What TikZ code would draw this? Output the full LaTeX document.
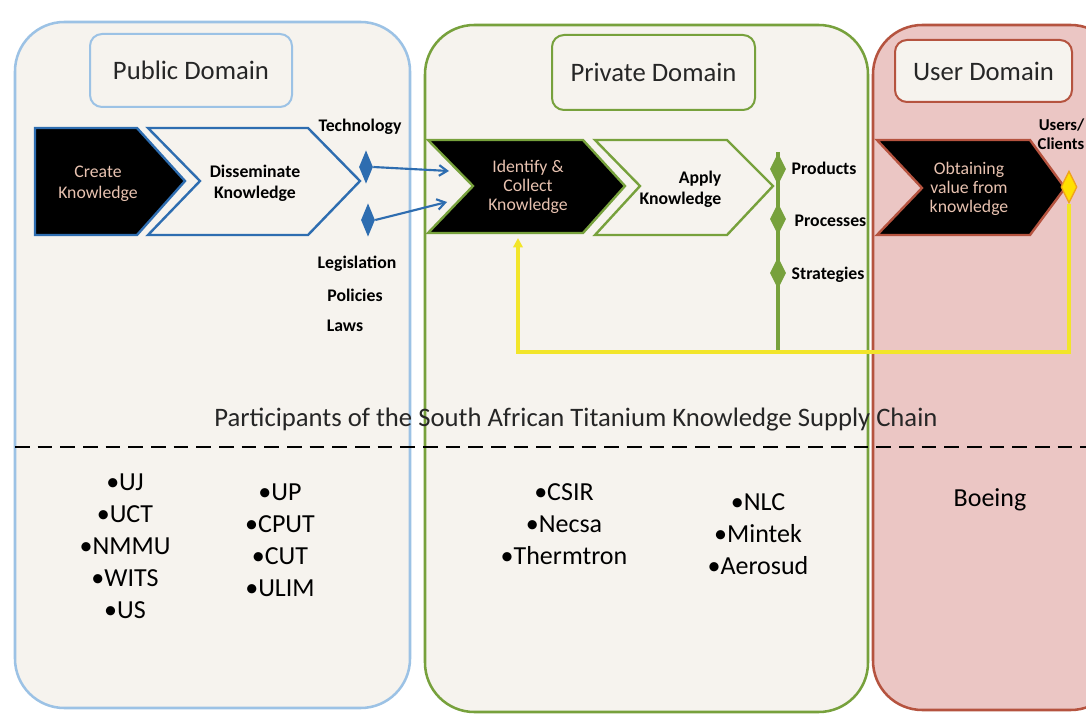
\documentclass[tikz,border=0pt]{standalone}
\usepackage{fontspec}
\setmainfont{Carlito}
\usetikzlibrary{shapes.geometric,arrows.meta}
\definecolor{beige}{HTML}{F6F3EE}
\definecolor{lblue}{HTML}{9CC2E5}
\definecolor{cblue}{HTML}{2E6DB0}
\definecolor{dgreen}{HTML}{77A13C}
\definecolor{pinkf}{HTML}{EBC6C4}
\definecolor{rbrown}{HTML}{B5533F}
\definecolor{peach}{HTML}{E8C2B0}
\definecolor{yline}{HTML}{F2E52A}
\definecolor{yfill}{HTML}{FFE000}
\definecolor{ybord}{HTML}{F0A21C}
\begin{document}
\begin{tikzpicture}[x=0.75pt,y=-0.75pt,
  bigbox/.style={line width=1.9pt,rounded corners=37pt},
  titlebox/.style={line width=1.5pt,rounded corners=9pt,fill=beige},
  titletext/.style={font=\fontsize{20}{22}\selectfont,text=black!85},
  darktext/.style={font=\fontsize{13.3}{14.5}\selectfont,text=peach,align=center},
  boldlbl/.style={font=\bfseries\fontsize{13.3}{15}\selectfont,text=black},
  listtext/.style={font=\fontsize{19.5}{24}\selectfont,align=center,text=black},
  bdia/.style={diamond,fill=cblue,draw=none,inner sep=0pt,minimum width=10.5pt,minimum height=25pt},
  gdia/.style={diamond,fill=dgreen,draw=none,inner sep=0pt,minimum width=12pt,minimum height=24pt},
  ydia/.style={diamond,fill=yfill,draw=ybord,line width=1pt,inner sep=0pt,minimum width=12pt,minimum height=24pt},
  barrow/.style={draw=cblue,line width=1.6pt,-{Straight Barb[length=6pt,width=8pt]}},
  yarrow/.style={draw=yline,line width=2.3pt,-{Triangle[length=7pt,width=7pt]}}
]
\useasboundingbox (0,0) rectangle (1086,717);
\fill[white] (0,0) rectangle (1086,717);
% domain boxes
\draw[bigbox,draw=lblue,fill=beige] (15,22) rectangle (410,708);
\draw[bigbox,draw=dgreen,fill=beige] (425,25) rectangle (868,712);
\draw[bigbox,draw=rbrown,fill=pinkf] (873,25) rectangle (1120,710);
% title boxes
\node[titlebox,draw=lblue,minimum width=151.5pt,minimum height=54.75pt] (pubt) at (191,70.5) {};
\node[titletext] (pubtx) at (pubt) {Public Domain};
\node[titlebox,draw=dgreen,minimum width=152.25pt,minimum height=56.25pt] (prit) at (653.5,72.5) {};
\node[titletext] (pritx) at (prit) {Private Domain};
\node[titlebox,draw=rbrown,minimum width=132.75pt,minimum height=46.5pt] (uset) at (983.5,71) {};
\node[titletext] (usetx) at (uset) {User Domain};
% chevrons
\draw[draw=cblue,line width=1.8pt,fill=black] (35,128) -- (137,128) -- (185,181) -- (137,235) -- (35,235) -- cycle;
\draw[draw=cblue,line width=1.8pt,fill=beige] (148,128) -- (308,128) -- (360,181) -- (308,235) -- (148,235) -- (200,181) -- cycle;
\draw[draw=dgreen,line width=1.8pt,fill=black] (428,140) -- (583,140) -- (625,186) -- (583,233) -- (428,233) -- (473,186) -- cycle;
\draw[draw=dgreen,line width=1.8pt,fill=beige] (595,140) -- (727,140) -- (773,186) -- (727,235) -- (595,235) -- (640,186) -- cycle;
\draw[draw=rbrown,line width=1.8pt,fill=black] (877,140) -- (1030,140) -- (1065,188) -- (1030,235) -- (877,235) -- (922,188) -- cycle;
% chevron texts
\node[darktext,font=\fontsize{13.3}{16}\selectfont] (create) at (98,184) {Create\\Knowledge};
\node[boldlbl,align=center,font=\bfseries\fontsize{13.3}{15.5}\selectfont] (dissem) at (255,183) {Disseminate\\Knowledge};
\node[darktext] (ident) at (528,187) {Identify \&\\Collect\\Knowledge};
\node[boldlbl,align=right,anchor=east,font=\bfseries\fontsize{13.3}{15.5}\selectfont] (apply) at (726,189) {Apply\\Knowledge};
\node[darktext] (obtain) at (969,189) {Obtaining\\value from\\knowledge};
% blue diamonds and labels
\node[bdia] (d1) at (366,167) {};
\node[bdia] (d2) at (368,220) {};
\node[boldlbl] (tech) at (360,127) {Technology};
\node[boldlbl] (legis) at (357,264) {Legislation};
\node[boldlbl] (polic) at (355,295) {Policies};
\node[boldlbl] (laws) at (345,326) {Laws};
\coordinate (t1) at (449,171);
\coordinate (t2) at (447,202);
\draw[barrow] (d1.east) -- (t1);
\draw[barrow] (d2.east) -- (t2);
% green outputs
\coordinate (gtop) at (778,152);
\coordinate (gbot) at (778,352);
\draw[dgreen,line width=2.4pt] (gtop) -- (gbot);
\node[gdia] (g1) at (778,169) {};
\node[gdia] (g2) at (778,219) {};
\node[gdia] (g3) at (778,273) {};
\node[boldlbl,anchor=west] (prod) at (787,168) {Products};
\node[boldlbl,anchor=west] (proc) at (790,221) {Processes};
\node[boldlbl,anchor=west] (strat) at (787,275) {Strategies};
% users
\node[boldlbl,align=right,anchor=east,font=\bfseries\fontsize{12.5}{14.5}\selectfont] (users) at (1089,134) {Users/\\Clients};
\coordinate (yb) at (1069,352);
\coordinate (ya) at (518,352);
\coordinate (yt) at (518,238);
\node[ydia] (yd) at (1069,187) {};
\draw[yarrow] (yd.south) -- (yb) -- (ya) -- (yt);
% participants
\node[font=\fontsize{20}{22}\selectfont,text=black!85] (part) at (576,420) {Participants of the South African Titanium Knowledge Supply Chain};
\coordinate (dl) at (15,447);
\coordinate (dr) at (1086,447);
\draw[black,line width=2.2pt,dash pattern=on 11pt off 6pt] (dl) -- (dr);
% lists
\node[listtext,anchor=north] (l1) at (125,469) {•UJ\\•UCT\\•NMMU\\•WITS\\•US};
\node[listtext,anchor=north] (l2) at (280,479) {•UP\\•CPUT\\•CUT\\•ULIM};
\node[listtext,anchor=north] (l3) at (564,479) {•CSIR\\•Necsa\\•Thermtron};
\node[listtext,anchor=north] (l4) at (758,489) {•NLC\\•Mintek\\•Aerosud};
\node[listtext] (boeing) at (990,500) {Boeing};
\end{tikzpicture}
\end{document}
